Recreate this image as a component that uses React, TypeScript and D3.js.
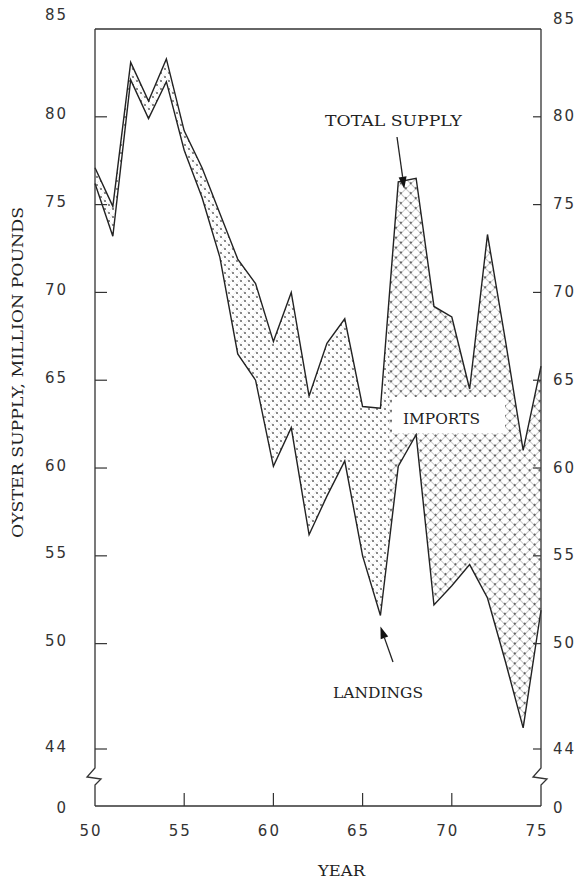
import React from 'react';
import * as d3 from 'd3';

const years = [50, 51, 52, 53, 54, 55, 56, 57, 58, 59, 60, 61, 62, 63, 64, 65, 66, 67, 68, 69, 70, 71, 72, 73, 74, 75];
const totalSupply = [77.1, 74.9, 83.1, 80.9, 83.3, 79.2, 77.1, 74.5, 71.9, 70.5, 67.2, 70.0, 64.1, 67.1, 68.5, 63.5, 63.4, 76.3, 76.5, 69.2, 68.6, 64.5, 73.3, 67.3, 61.0, 65.8];
const landings = [76.2, 73.2, 82.1, 79.9, 82.0, 78.1, 75.4, 72.0, 66.5, 65.0, 60.1, 62.3, 56.2, 58.4, 60.4, 55.0, 51.6, 60.1, 61.9, 52.2, 53.3, 54.5, 52.6, 49.0, 45.2, 51.9];
const yTicks = [85, 80, 75, 70, 65, 60, 55, 50, 44];
const xTicks = [50, 55, 60, 65, 70, 75];
const yTitle = 'OYSTER SUPPLY, MILLION POUNDS';
const xTitle = 'YEAR';

const W = 580, H = 880;
const L = 95, R = 541, T = 29, B = 806;

export default function App() {
  const x = d3.scaleLinear().domain([50, 75]).range([L, R]);
  const y = d3.scaleLinear().domain([44, 85]).range([749, T]);
  const data = years.map((yr, i) => ({ yr, t: totalSupply[i], l: landings[i] }));
  const area = d3.area<any>().x(d => x(d.yr)).y0(d => y(d.l)).y1(d => y(d.t)).curve(d3.curveLinear);
  const lineT = d3.line<any>().x(d => x(d.yr)).y(d => y(d.t));
  const lineL = d3.line<any>().x(d => x(d.yr)).y(d => y(d.l));
  const split = x(66.5);
  const breakTop = y(44) + 19;
  const axisPath = (ax: number) =>
    `M${ax},${T} V${breakTop} L${ax - 8},${breakTop + 9} L${ax + 6},${breakTop + 11} L${ax},${breakTop + 17} V${B}`;

  const arrow = (x1: number, y1: number, x2: number, y2: number) => {
    const a = Math.atan2(y2 - y1, x2 - x1);
    const len = 12, w = 4;
    const bx = x2 - len * Math.cos(a), by = y2 - len * Math.sin(a);
    const px = -Math.sin(a) * w, py = Math.cos(a) * w;
    return (
      <g>
        <line x1={x1} y1={y1} x2={bx} y2={by} stroke="#222" strokeWidth={1.3} />
        <polygon points={`${x2},${y2} ${bx + px},${by + py} ${bx - px},${by - py}`} fill="#111" />
      </g>
    );
  };

  const tTip = [x(67) + 6, y(totalSupply[17]) + 7];
  const lTip = [x(66), y(landings[16]) + 11];

  const numFont = { fontFamily: 'DejaVu Sans', fontSize: 15, fill: '#333' } as any;
  const serif = { fontFamily: 'DejaVu Serif', fontSize: 14, fill: '#222' } as any;

  return (
    <svg width={W} height={H} style={{ position: 'absolute', left: 0, top: 0, background: '#fff' }}>
      <defs>
        <pattern id="stip" patternUnits="userSpaceOnUse" width={8} height={8}>
          <path d="M0,0 L8,8 M8,0 L0,8" stroke="#aaa" strokeWidth={0.5} opacity={0.4} />
          <circle cx={1} cy={1} r={0.9} fill="#555" />
          <circle cx={5} cy={5} r={0.9} fill="#555" />
        </pattern>
        <pattern id="hatch" patternUnits="userSpaceOnUse" width={7} height={7} patternTransform="rotate(45)">
          <path d="M0,0 H7 M0,0 V7" stroke="#6a6a6a" strokeWidth={0.75} />
          <circle cx={0} cy={0} r={1} fill="#444" />
          <circle cx={7} cy={0} r={1} fill="#444" />
          <circle cx={0} cy={7} r={1} fill="#444" />
          <circle cx={7} cy={7} r={1} fill="#444" />
        </pattern>
        <clipPath id="cA"><rect x={L} y={0} width={split - L} height={H} /></clipPath>
        <clipPath id="cB"><rect x={split} y={0} width={R - split} height={H} /></clipPath>
      </defs>

      <path d={area(data) || ''} fill="url(#stip)" clipPath="url(#cA)" />
      <path d={area(data) || ''} fill="url(#hatch)" clipPath="url(#cB)" />
      <path d={lineT(data) || ''} fill="none" stroke="#222" strokeWidth={1.4} strokeLinejoin="miter" />
      <path d={lineL(data) || ''} fill="none" stroke="#222" strokeWidth={1.4} strokeLinejoin="miter" />

      <rect x={392} y={397} width={113} height={36} fill="#fff" />
      <text x={403} y={424} textLength={77} lengthAdjust="spacingAndGlyphs" style={serif}>IMPORTS</text>

      <path d={`M${L},${T} H${R}`} stroke="#333" strokeWidth={1.3} fill="none" />
      <path d={`M${L},${B} H${R}`} stroke="#333" strokeWidth={1.3} fill="none" />
      <path d={axisPath(L)} stroke="#333" strokeWidth={1.3} fill="none" />
      <path d={axisPath(R)} stroke="#333" strokeWidth={1.3} fill="none" />

      {yTicks.filter(v => v !== 85).map(v => (
        <g key={'yt' + v}>
          <line x1={L} x2={L + 12} y1={y(v)} y2={y(v)} stroke="#333" strokeWidth={1.2} />
          <line x1={R - 8} x2={R} y1={y(v)} y2={y(v)} stroke="#333" strokeWidth={1.2} />
        </g>
      ))}
      {yTicks.map(v => (
        <g key={'yl' + v}>
          <text x={68} y={y(v) + (v === 85 ? -14 : -2)} textAnchor="end" dominantBaseline="middle" letterSpacing={2} style={numFont}>{v}</text>
          <text x={553} y={y(v) + (v === 85 ? -10 : 0)} textAnchor="start" dominantBaseline="middle" letterSpacing={2} style={numFont}>{v}</text>
        </g>
      ))}
      <text x={66} y={B + 2} textAnchor="end" dominantBaseline="middle" style={numFont}>0</text>
      <text x={553} y={B + 2} textAnchor="start" dominantBaseline="middle" style={numFont}>0</text>

      {xTicks.map(v => (
        <g key={'xt' + v}>
          {v !== 50 && v !== 75 && <line x1={x(v)} x2={x(v)} y1={B} y2={B - 13} stroke="#333" strokeWidth={1.2} />}
          <text x={x(v) - 4} y={831} textAnchor="middle" dominantBaseline="middle" letterSpacing={2} style={numFont}>{v}</text>
        </g>
      ))}

      <text x={318} y={876} textLength={47} lengthAdjust="spacingAndGlyphs" style={serif}>{xTitle}</text>
      <text transform="translate(23,538) rotate(-90)" textLength={331} lengthAdjust="spacingAndGlyphs" style={serif}>{yTitle}</text>

      <text x={325} y={126} textLength={137} lengthAdjust="spacingAndGlyphs" style={serif}>TOTAL SUPPLY</text>
      {arrow(397, 137, tTip[0], tTip[1])}
      <text x={333} y={698} textLength={90} lengthAdjust="spacingAndGlyphs" style={serif}>LANDINGS</text>
      {arrow(393, 662, lTip[0], lTip[1])}
    </svg>
  );
}
